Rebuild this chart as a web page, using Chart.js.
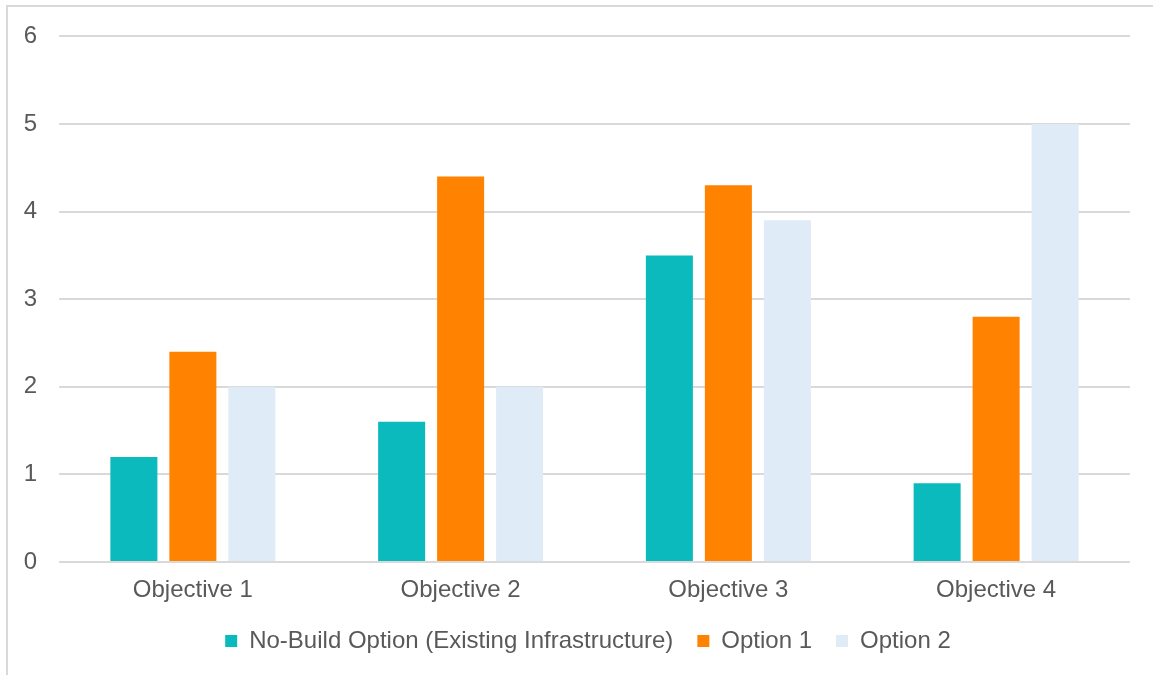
<!DOCTYPE html>
<html>
<head>
<meta charset="utf-8">
<script src="https://cdn.jsdelivr.net/npm/chart.js@4.4.1/dist/chart.umd.min.js"></script>
<style>
  html, body { margin: 0; padding: 0; background: #fff; overflow: hidden; }
  #wrap { position: relative; width: 1153px; height: 675px; }
  #frame { position: absolute; left: 6px; top: 5px; width: 1200px; height: 700px;
           border: 2px solid #d9d9d9; box-sizing: border-box; }
  canvas { position: absolute; left: 0; top: 0; }
</style>
</head>
<body>
<div id="wrap">
  <div id="frame"></div>
  <canvas id="chart" width="1153" height="675"></canvas>
</div>
<script>
const categories = ['Objective 1', 'Objective 2', 'Objective 3', 'Objective 4'];
const noBuild = [1.2, 1.6, 3.5, 0.9];
const option1 = [2.4, 4.4, 4.3, 2.8];
const option2 = [2.0, 2.0, 3.9, 5.0];
const yTicks = [0, 1, 2, 3, 4, 5, 6];

const textColor = '#595959';
const font = { family: 'Liberation Sans, Arial, sans-serif', size: 24 };

// centre the legend under the plot area rather than the whole canvas
const legendShift = {
  id: 'legendShift',
  afterLayout(chart) {
    const lg = chart.legend;
    if (!lg) return;
    lg.left += 23;
    lg.right += 23;
  }
};

new Chart(document.getElementById('chart'), {
  type: 'bar',
  data: {
    labels: categories,
    datasets: [
      { label: 'No-Build Option (Existing Infrastructure)', data: noBuild, backgroundColor: '#0ABABC' },
      { label: 'Option 1', data: option1, backgroundColor: '#FF8200' },
      { label: 'Option 2', data: option2, backgroundColor: '#DFEBF7' }
    ]
  },
  plugins: [legendShift],
  options: {
    responsive: false,
    animation: false,
    devicePixelRatio: 1,
    datasets: { bar: { categoryPercentage: 0.661, barPercentage: 0.797 } },
    layout: { padding: { top: 24, right: 23, bottom: 12, left: 0 } },
    plugins: {
      tooltip: { enabled: false },
      legend: {
        position: 'bottom',
        labels: { color: textColor, font: font, boxWidth: 12, boxHeight: 12, padding: 24 }
      }
    },
    scales: {
      x: {
        afterFit: s => { s.height = 43; },
        grid: { display: false, drawTicks: false },
        border: { display: false },
        ticks: { color: textColor, font: font, padding: 14 }
      },
      y: {
        min: 0,
        max: 6,
        afterFit: s => { s.width = 59; },
        afterBuildTicks: s => { s.ticks = yTicks.map(v => ({ value: v })); },
        grid: { color: '#d9d9d9', lineWidth: 2, drawTicks: false },
        border: { display: false },
        ticks: { color: textColor, font: font, padding: 22 }
      }
    }
  }
});
</script>
</body>
</html>
